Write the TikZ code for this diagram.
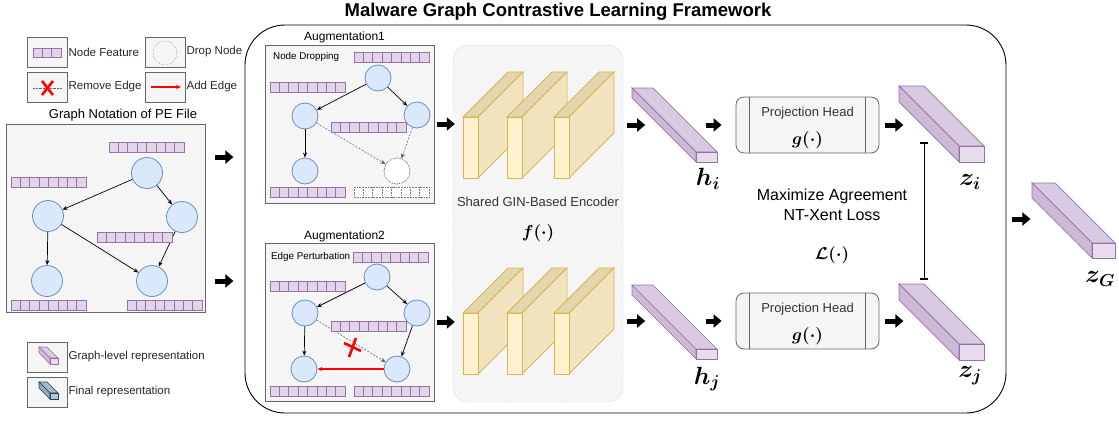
\documentclass[tikz,border=0pt]{standalone}
\usepackage[no-math]{fontspec}
\setmainfont{Liberation Sans}
\usepackage{amsmath,bm}
\usetikzlibrary{arrows.meta}

\definecolor{nodefill}{HTML}{DAE8FC}
\definecolor{nodeline}{HTML}{6C8EBF}
\definecolor{featfill}{HTML}{E1D5E7}
\definecolor{featline}{HTML}{9673A6}
\definecolor{panelfill}{HTML}{F5F5F5}
\definecolor{panelline}{HTML}{666666}
\definecolor{encfill}{HTML}{FFF2CC}
\definecolor{encline}{HTML}{D6B656}
\definecolor{encside}{HTML}{F0E3BD}
\definecolor{enctop}{HTML}{E3D5AC}
\definecolor{vecfill}{HTML}{E6DCEC}
\definecolor{vecline}{HTML}{9673A6}
\definecolor{vectop}{HTML}{D8CAE1}
\definecolor{vecside}{HTML}{CBB9D6}
\definecolor{finfill}{HTML}{BAC8D3}
\definecolor{finline}{HTML}{23445D}
\definecolor{fintop}{HTML}{A9B9C6}
\definecolor{finside}{HTML}{97A9B8}
\definecolor{addred}{RGB}{255,0,0}

\tikzset{
  panel/.style={draw=panelline, fill=panelfill, line width=0.8pt, inner sep=0pt},
  gnode/.style={circle, draw=nodeline, fill=nodefill, line width=0.8pt, minimum size=31pt, inner sep=0pt},
  anode/.style={gnode, minimum size=26pt},
  dropnode/.style={anode, draw=black!60, fill=white, densely dotted},
  cell/.style={draw=featline, fill=featfill, line width=0.7pt},
  dropcell/.style={draw=black!55, fill=white, densely dotted, line width=0.6pt},
  edge/.style={-{Stealth[length=5pt,width=4pt]}, line width=0.7pt},
  lostedge/.style={-{Stealth[length=5pt,width=4pt]}, line width=0.5pt, draw=black!65, dash pattern=on 2pt off 1.5pt},
  addedge/.style={color=addred, line width=1.1pt, -{Stealth[length=5pt,width=4pt]}},
  redx/.style={color=addred, line width=2.6pt},
  fatarrow/.style={line width=5pt, -{Triangle[length=8pt,width=13pt]}},
  txt/.style={font=\fontsize{11.5}{13}\selectfont, text=black!85},
  mlabel/.style={font=\fontsize{25}{25}\selectfont},
}

% one row of 8 feature cells
\newcommand{\featrow}[3][cell]{%
  \foreach \k in {0,...,7} \draw[#1] ({#2+\k*9.375},#3) rectangle ++(9.375,10);}
% extruded vector: front face x, y, w, h, depth, colour prefix
\newcommand{\vecbar}[6]{%
  \filldraw[fill=#6top, draw=#6line, line width=0.7pt] (#1,#2) -- ++(#3,0) -- ++(-#5,-#5) -- ++(-#3,0) -- cycle;
  \filldraw[fill=#6side, draw=#6line, line width=0.7pt] (#1,#2) -- ++(0,#4) -- ++(-#5,-#5) -- ++(0,-#4) -- cycle;
  \filldraw[fill=#6fill, draw=#6line, line width=0.7pt] (#1,#2) rectangle ++(#3,#4);}
% encoder layer slab
\newcommand{\encslab}[2]{%
  \filldraw[fill=enctop, draw=encline, line width=0.8pt] (#1,#2) -- ++(15,0) -- ++(45,-45) -- ++(-15,0) -- cycle;
  \filldraw[fill=encside, draw=encline, line width=0.8pt] ({#1+15},#2) -- ++(0,61) -- ++(45,-45) -- ++(0,-61) -- cycle;
  \filldraw[fill=encfill, draw=encline, line width=0.8pt] (#1,#2) rectangle ++(15,61);}

\begin{document}
\begin{tikzpicture}[x=1pt, y=-1pt]
  \useasboundingbox (0,0) rectangle (1119,423);

  % legend
  \node[panel, minimum width=40pt, minimum height=30pt] (lfeat) at (47,52) {};
  \node[panel, minimum width=40pt, minimum height=30pt] (ldrop) at (165,52) {};
  \node[panel, minimum width=40pt, minimum height=30pt] (lrem) at (47,87) {};
  \node[panel, minimum width=40pt, minimum height=30pt] (ladd) at (165,87) {};
  \foreach \k in {0,1,2} \draw[cell] ({33+\k*9.33},48) rectangle ++(9.33,9);
  \node[circle, draw=black!60, densely dotted, minimum size=24pt] (ldropc) at (165,53) {};
  \draw[black!60, densely dotted] (33,88) -- (62,88);
  \draw[redx] (42,81) -- (53,95);
  \draw[redx] (53,81) -- (42,95);
  \coordinate (laddA) at (151,87);
  \coordinate (laddB) at (181,87);
  \draw[addedge] (laddA) -- (laddB);
  \node[txt, anchor=west, inner sep=1pt] at (lfeat.east) {Node Feature};
  \node[txt, anchor=west, inner sep=1pt] at (ldrop.east) {Drop Node};
  \node[txt, anchor=west, inner sep=1pt] at (lrem.east) {Remove Edge};
  \node[txt, anchor=west, inner sep=1pt] at (ladd.east) {Add Edge};

  \node[panel, minimum width=40pt, minimum height=30pt] (lgraph) at (47,357) {};
  \node[panel, minimum width=40pt, minimum height=30pt] (lfinal) at (47,392) {};
  \vecbar{50}{358}{8}{6}{11}{vec}
  \vecbar{50}{393}{8}{6}{11}{fin}
  \node[txt, anchor=west, inner sep=1pt] at (lgraph.east) {Graph-level representation};
  \node[txt, anchor=west, inner sep=1pt] at (lfinal.east) {Final representation};

  % graph notation of the PE file
  \node[panel, minimum width=199pt, minimum height=188pt] (graph) at (105.5,218) {};
  \node[font=\fontsize{13}{15}\selectfont, anchor=south] at (123,125) {Graph Notation of PE File};
  \node[gnode] (g1) at (147,173) {};
  \node[gnode] (g2) at (48,216) {};
  \node[gnode] (g3) at (182,217) {};
  \node[gnode] (g4) at (47,281) {};
  \node[gnode] (g5) at (152,281) {};
  \draw[edge] (g1) -- (g2);
  \draw[edge] (g1) -- (g3);
  \draw[edge] (g2) -- (g4);
  \draw[edge] (g2) -- (g5);
  \draw[edge] (g3) -- (g5);
  \featrow{109}{142}
  \featrow{11}{177}
  \featrow{97}{232}
  \featrow{11}{300}
  \featrow{127}{300}

  % framework
  \node[draw, line width=0.9pt, rounded corners=40pt, minimum width=761pt, minimum height=388pt] (frame) at (625.5,219) {};
  \node[font=\bfseries\fontsize{18.5}{18.5}\selectfont] (title) at (558,12) {Malware Graph Contrastive Learning Framework};

  % augmentation 1
  \node[panel, minimum width=169pt, minimum height=158pt] (aug1) at (349.5,124) {};
  \node[font=\fontsize{12}{14}\selectfont, anchor=west, inner sep=0pt] at (304,37) {Augmentation1};
  \node[font=\fontsize{9.8}{11}\selectfont, anchor=west, inner sep=0pt] at (273,57) {Node Dropping};
  \node[anode] (a1) at (378,78) {};
  \node[anode] (a2) at (305,116) {};
  \node[anode] (a3) at (417,115) {};
  \node[anode] (a4) at (305,171) {};
  \node[dropnode] (a5) at (397,171) {};
  \draw[edge] (a1) -- (a2);
  \draw[edge] (a1) -- (a3);
  \draw[edge] (a2) -- (a4);
  \draw[lostedge] (a2) -- (a5);
  \draw[lostedge] (a3) -- (a5);
  \featrow{354}{52}
  \featrow{270}{82}
  \featrow{331}{122}
  \featrow{270}{187}
  \featrow[dropcell]{354}{187}

  % augmentation 2
  \node[panel, minimum width=169pt, minimum height=158pt] (aug2) at (349.5,322) {};
  \node[font=\fontsize{12}{14}\selectfont, anchor=west, inner sep=0pt] at (304,236) {Augmentation2};
  \node[font=\fontsize{9.8}{11}\selectfont, anchor=west, inner sep=0pt] at (271,257) {Edge Perturbation};
  \node[anode] (b1) at (377,277) {};
  \node[anode] (b2) at (305,313) {};
  \node[anode] (b3) at (417,313) {};
  \node[anode] (b4) at (304,369) {};
  \node[anode] (b5) at (397,369) {};
  \draw[edge] (b1) -- (b2);
  \draw[edge] (b1) -- (b3);
  \draw[edge] (b2) -- (b4);
  \draw[edge] (b3) -- (b5);
  \draw[lostedge] (b2) -- (b5);
  \draw[addedge] (b5) -- (b4);
  \draw[redx] (344,343) -- (361,351);
  \draw[redx] (349,357) -- (356,338);
  \featrow{353}{252}
  \featrow{270}{281}
  \featrow{331}{321}
  \featrow{270}{386}
  \featrow{354}{386}

  % shared encoder
  \node[draw=black!35, fill=panelfill, densely dotted, rounded corners=15pt, minimum width=170pt, minimum height=357pt] (enc) at (538,223.5) {};
  \foreach \x in {463,507,554} {\encslab{\x}{117} \encslab{\x}{313}}
  \node[font=\fontsize{13}{15}\selectfont, text=black!80] at (538,202) {Shared GIN-Based Encoder};
  \node[font=\fontsize{17}{17}\selectfont] at (538,233) {$\bm{f(\cdot)}$};

  % projection heads
  \foreach \n/\y in {ph1/125, ph2/321} {
    \node[panel, rounded corners=8pt, minimum width=143pt, minimum height=56pt] (\n) at (807.5,\y) {};
    \draw[panelline, line width=0.8pt] ([xshift=14pt]\n.north west) -- ([xshift=14pt]\n.south west);
    \draw[panelline, line width=0.8pt] ([xshift=-14pt]\n.north east) -- ([xshift=-14pt]\n.south east);
    \node[font=\fontsize{13}{15}\selectfont, text=black!80] at ([yshift=-17pt]\n.north) {Projection Head};
    \node[font=\fontsize{16}{16}\selectfont] at ([yshift=13pt]\n.south) {$\bm{g(\cdot)}$};
  }

  % representations
  \vecbar{696}{152}{21}{10}{64}{vec}
  \vecbar{696}{349}{21}{10}{64}{vec}
  \vecbar{959}{146}{25}{16}{60}{vec}
  \vecbar{959}{344}{25}{16}{60}{vec}
  \vecbar{1092}{243}{23}{15}{60}{vec}
  \node[mlabel] (hi) at (708,179) {$\bm{h_i}$};
  \node[mlabel] (hj) at (707,379) {$\bm{h_j}$};
  \node[mlabel] (zi) at (970,182) {$\bm{z_i}$};
  \node[mlabel] (zj) at (970,376) {$\bm{z_j}$};
  \node[mlabel] (zG) at (1100,279) {$\bm{z_G}$};

  % contrastive loss
  \node[font=\fontsize{16}{20}\selectfont, align=center] (loss) at (832,205) {Maximize Agreement\\NT-Xent Loss};
  \node[font=\fontsize{18}{18}\selectfont] at (832,255) {$\bm{\mathcal{L}(\cdot)}$};
  \draw[line width=1.3pt, {Bar[width=8pt]}-{Bar[width=8pt]}] ([shift={(45pt,11pt)}]ph1.south east) -- ([shift={(45pt,13pt)}]ph2.north east);

  % flow arrows
  \draw[fatarrow] ([xshift=10pt]graph.east |- g1.north) -- ([xshift=28pt]graph.east |- g1.north);
  \draw[fatarrow] ([xshift=10pt]graph.east |- g5) -- ([xshift=28pt]graph.east |- g5);
  \draw[fatarrow] ([xshift=3pt]aug1.east) -- ([xshift=2pt]aug1.east -| enc.west);
  \draw[fatarrow] ([xshift=3pt]aug2.east) -- ([xshift=2pt]aug2.east -| enc.west);
  \draw[fatarrow] ([xshift=4pt]enc.east |- ph1.west) -- ([xshift=22pt]enc.east |- ph1.west);
  \draw[fatarrow] ([xshift=4pt]enc.east |- ph2.west) -- ([xshift=22pt]enc.east |- ph2.west);
  \draw[fatarrow] ([xshift=-30pt]ph1.west) -- ([xshift=-14pt]ph1.west);
  \draw[fatarrow] ([xshift=-30pt]ph2.west) -- ([xshift=-14pt]ph2.west);
  \draw[fatarrow] ([xshift=6pt]ph1.east) -- ([xshift=24pt]ph1.east);
  \draw[fatarrow] ([xshift=6pt]ph2.east) -- ([xshift=24pt]ph2.east);
  \draw[fatarrow] ([xshift=6pt]frame.east) -- ([xshift=24pt]frame.east);
\end{tikzpicture}
\end{document}
